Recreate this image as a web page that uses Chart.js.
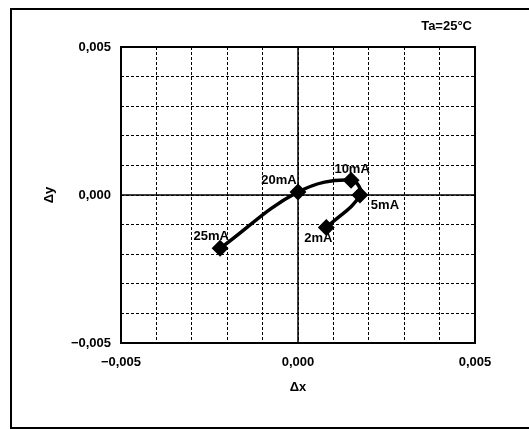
<!DOCTYPE html>
<html>
<head>
<meta charset="utf-8">
<script src="https://cdn.jsdelivr.net/npm/chart.js@4/dist/chart.umd.min.js"></script>
<style>
  html, body { margin: 0; padding: 0; background: #fff; }
  #wrap { width: 529px; height: 430px; }
</style>
</head>
<body>
<div id="wrap"><canvas id="chart"></canvas></div>
<script>
// chromaticity shift vs forward current
const currents = ['25mA', '20mA', '10mA', '5mA', '2mA'];
const dx = [-0.0022, 0.0000, 0.0015, 0.00175, 0.0008];
const dy = [-0.0018, 0.0001, 0.0005, 0.0000, -0.0011];
const tickLabels = [-0.005, 0, 0.005];
const note = 'Ta=25°C';

// label offsets from each point (px)
const labelOffsets = [[-9, -12], [-19, -12], [1, -11], [25, 10], [-8, 11]];

const FONT = '"Liberation Sans", Arial, sans-serif';

function fmt(v) {
  const k = Math.round(v * 1000);
  const hit = tickLabels.find(t => Math.round(t * 1000) === k);
  if (hit === undefined) return '';
  const s = Math.abs(hit).toFixed(3).replace('.', ',');
  return (hit < 0 ? '\u2212' : '') + s;
}

const extras = {
  id: 'extras',
  beforeDatasetsDraw(chart) {
    const {ctx, chartArea: a, scales: {x, y}} = chart;
    ctx.save();
    ctx.strokeStyle = '#000';
    ctx.lineWidth = 1.5;
    ctx.beginPath();
    ctx.moveTo(a.left, y.getPixelForValue(0));
    ctx.lineTo(a.right, y.getPixelForValue(0));
    ctx.moveTo(x.getPixelForValue(0), a.top);
    ctx.lineTo(x.getPixelForValue(0), a.bottom);
    ctx.stroke();
    ctx.lineWidth = 2;
    ctx.strokeRect(a.left, a.top, a.right - a.left, a.bottom - a.top);
    ctx.restore();
  },
  afterDraw(chart) {
    const {ctx} = chart;
    const meta = chart.getDatasetMeta(0);
    ctx.save();
    ctx.fillStyle = '#000';
    ctx.font = 'bold 13px ' + FONT;
    ctx.textAlign = 'center';
    ctx.textBaseline = 'middle';
    meta.data.forEach((pt, i) => {
      ctx.fillText(currents[i], pt.x + labelOffsets[i][0], pt.y + labelOffsets[i][1]);
    });
    ctx.textAlign = 'right';
    ctx.fillText(note, 472, 26);
    // outer frame
    ctx.strokeStyle = '#000';
    ctx.lineWidth = 2;
    ctx.strokeRect(11, 9, 540, 419);
    ctx.restore();
  }
};

new Chart(document.getElementById('chart'), {
  type: 'scatter',
  data: {
    datasets: [{
      data: dx.map((v, i) => ({x: v, y: dy[i]})),
      showLine: true,
      borderColor: '#000',
      backgroundColor: '#000',
      borderWidth: 3.5,
      tension: 0.4,
      pointStyle: 'rectRot',
      pointRadius: 6,
      pointHoverRadius: 6
    }]
  },
  options: {
    responsive: true,
    maintainAspectRatio: false,
    animation: false,
    layout: { padding: { left: 10, right: 54, top: 47, bottom: 10 } },
    plugins: { legend: { display: false }, tooltip: { enabled: false } },
    scales: {
      x: {
        type: 'linear',
        min: -0.005,
        max: 0.005,
        afterFit: s => { s.height = 77; },
        ticks: {
          stepSize: 0.001,
          autoSkip: false,
          maxRotation: 0,
          padding: 12,
          color: '#000',
          font: { family: FONT, size: 13, weight: 'bold' },
          callback: fmt
        },
        grid: { color: '#000', lineWidth: 1, drawTicks: false },
        border: { display: false, dash: [3, 2] },
        title: {
          display: true,
          text: '\u0394x',
          color: '#000',
          font: { family: FONT, size: 13, weight: 'bold' },
          padding: { top: 0, bottom: 25 }
        }
      },
      y: {
        type: 'linear',
        min: -0.005,
        max: 0.005,
        afterFit: s => { s.width = 111; },
        ticks: {
          stepSize: 0.001,
          autoSkip: false,
          padding: 10,
          color: '#000',
          font: { family: FONT, size: 13, weight: 'bold' },
          callback: fmt
        },
        grid: { color: '#000', lineWidth: 1, drawTicks: false },
        border: { display: false, dash: [3, 2] },
        title: {
          display: true,
          text: '\u0394y',
          color: '#000',
          font: { family: FONT, size: 13, weight: 'bold' },
          padding: { top: 32, bottom: 0 }
        }
      }
    }
  },
  plugins: [extras]
});
</script>
</body>
</html>
